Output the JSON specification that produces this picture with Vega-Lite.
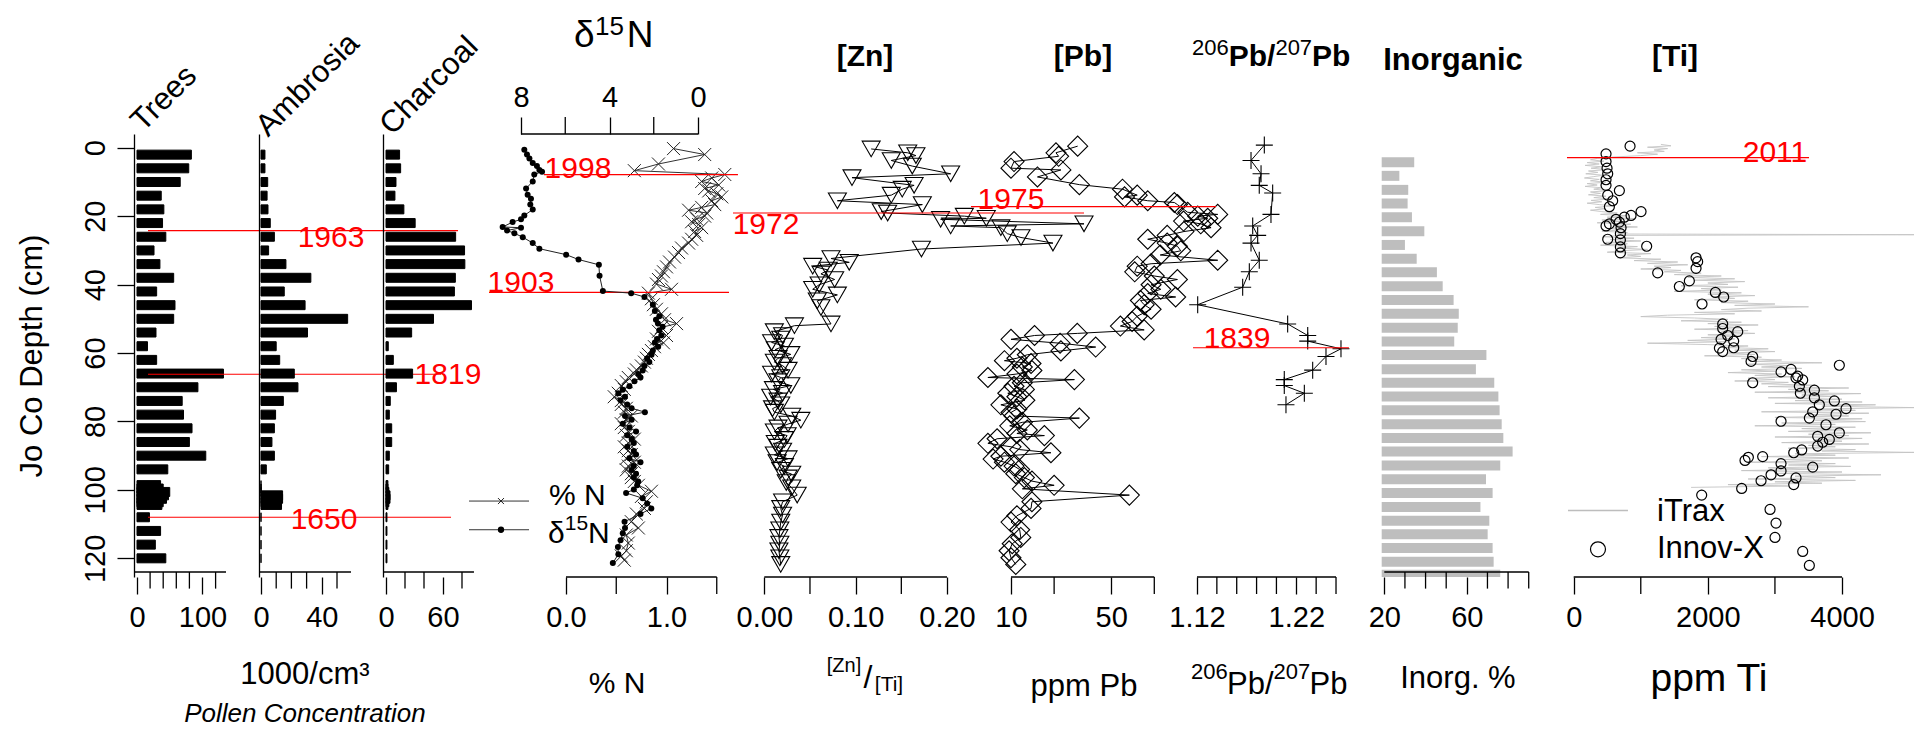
{
"$schema":"https://vega.github.io/schema/vega-lite/v6.json",
"background":"white",
"padding":{"left":16,"top":13,"right":0,"bottom":0},
"bounds":"flush",
"spacing":0,
"config":{
 "view":{"stroke":null},
 "font":"Liberation Sans",
 "text":{"font":"Liberation Sans","color":"black"},
 "axis":{"grid":false,"labelFont":"Liberation Sans","labelFontSize":29,"labelColor":"black","tickColor":"black","tickSize":17,"tickWidth":1.3,"domainColor":"black","domainWidth":1.3,"labelPadding":9,"labelOverlap":false,"labelFlush":false,"titleFont":"Liberation Sans"}
},
"datasets":{
 "pollen":[
  {"depth":2,"trees":83,"ambrosia":2.6,"charcoal":14.3},{"depth":6,"trees":79,"ambrosia":2.6,"charcoal":15.4},{"depth":10,"trees":66,"ambrosia":4.4,"charcoal":10.5},{"depth":14,"trees":37,"ambrosia":4,"charcoal":9.4},{"depth":18,"trees":41,"ambrosia":4.6,"charcoal":18.8},{"depth":22,"trees":39,"ambrosia":6.1,"charcoal":30.7},{"depth":26,"trees":44,"ambrosia":8.8,"charcoal":73.3},{"depth":30,"trees":26,"ambrosia":5,"charcoal":82.7},{"depth":34,"trees":35,"ambrosia":16.4,"charcoal":83},{"depth":38,"trees":56,"ambrosia":32.8,"charcoal":73},{"depth":42,"trees":30,"ambrosia":15.3,"charcoal":72},{"depth":46,"trees":58,"ambrosia":29,"charcoal":90},{"depth":50,"trees":56,"ambrosia":57,"charcoal":50},{"depth":54,"trees":29,"ambrosia":30.6,"charcoal":27},{"depth":58,"trees":16,"ambrosia":10,"charcoal":2.4},{"depth":62,"trees":30,"ambrosia":12.3,"charcoal":7.7},{"depth":66,"trees":132,"ambrosia":21.9,"charcoal":28},{"depth":70,"trees":93,"ambrosia":24.3,"charcoal":11},{"depth":74,"trees":69,"ambrosia":14.7,"charcoal":4.5},{"depth":78,"trees":71,"ambrosia":9.6,"charcoal":3.5},{"depth":82,"trees":84,"ambrosia":8.8,"charcoal":6},{"depth":86,"trees":80,"ambrosia":7.2,"charcoal":6},{"depth":90,"trees":105,"ambrosia":8.8,"charcoal":3.5},{"depth":94,"trees":47,"ambrosia":3.5,"charcoal":2.8},{"depth":98.6,"trees":36,"ambrosia":0,"charcoal":2},{"depth":99.6,"trees":40,"ambrosia":0,"charcoal":2},{"depth":100.6,"trees":50,"ambrosia":0,"charcoal":3},{"depth":101.6,"trees":48,"ambrosia":14.2,"charcoal":4.2},{"depth":102.6,"trees":45,"ambrosia":14.2,"charcoal":4.2},{"depth":103.6,"trees":40,"ambrosia":13.5,"charcoal":3},{"depth":104.4,"trees":38,"ambrosia":13.5,"charcoal":2},{"depth":108,"trees":19,"ambrosia":0,"charcoal":1},{"depth":112,"trees":36,"ambrosia":0,"charcoal":1},{"depth":116,"trees":28,"ambrosia":0,"charcoal":1},{"depth":120,"trees":44,"ambrosia":0,"charcoal":1}
 ],
 "pctn":[
  {"depth":1.6,"n":1.07},{"depth":3.3,"n":1.38},{"depth":6.0,"n":0.92},{"depth":7.9,"n":0.68},{"depth":9.0,"n":1.58},{"depth":10.0,"n":1.45},{"depth":11.0,"n":1.35},{"depth":12.0,"n":1.52},{"depth":13.0,"n":1.38},{"depth":13.7,"n":1.42},{"depth":14.5,"n":1.5},{"depth":15.4,"n":1.55},{"depth":16.5,"n":1.45},{"depth":17.6,"n":1.48},{"depth":18.4,"n":1.35},{"depth":19.2,"n":1.22},{"depth":20.0,"n":1.4},{"depth":20.9,"n":1.38},{"depth":21.7,"n":1.3},{"depth":22.5,"n":1.25},{"depth":23.3,"n":1.32},{"depth":24.2,"n":1.35},{"depth":25.3,"n":1.28},{"depth":26.4,"n":1.3},{"depth":27.5,"n":1.25},{"depth":28.6,"n":1.22},{"depth":30.0,"n":1.15},{"depth":31.3,"n":1.12},{"depth":32.6,"n":1.08},{"depth":34.0,"n":1.03},{"depth":35.4,"n":1.0},{"depth":36.8,"n":0.97},{"depth":38.0,"n":0.95},{"depth":39.0,"n":0.92},{"depth":40.3,"n":0.9},{"depth":41.8,"n":1.05},{"depth":42.9,"n":0.82},{"depth":44.5,"n":0.85},{"depth":46.2,"n":0.87},{"depth":47.5,"n":0.9},{"depth":48.8,"n":0.95},{"depth":50.5,"n":0.98},{"depth":51.6,"n":1.1},{"depth":52.7,"n":0.95},{"depth":53.8,"n":0.92},{"depth":55.0,"n":1.0},{"depth":56.0,"n":0.9},{"depth":57.1,"n":0.97},{"depth":58.2,"n":0.88},{"depth":59.3,"n":0.85},{"depth":60.4,"n":0.82},{"depth":61.5,"n":0.8},{"depth":62.6,"n":0.78},{"depth":63.7,"n":0.75},{"depth":64.8,"n":0.7},{"depth":66.0,"n":0.68},{"depth":67.0,"n":0.62},{"depth":68.2,"n":0.6},{"depth":69.3,"n":0.55},{"depth":70.4,"n":0.58},{"depth":71.5,"n":0.52},{"depth":72.5,"n":0.48},{"depth":73.6,"n":0.55},{"depth":74.7,"n":0.55},{"depth":75.8,"n":0.6},{"depth":76.9,"n":0.58},{"depth":78.0,"n":0.65},{"depth":79.1,"n":0.6},{"depth":80.2,"n":0.55},{"depth":81.3,"n":0.58},{"depth":82.4,"n":0.62},{"depth":83.5,"n":0.6},{"depth":84.6,"n":0.68},{"depth":85.7,"n":0.62},{"depth":86.8,"n":0.58},{"depth":87.9,"n":0.62},{"depth":89.0,"n":0.65},{"depth":90.1,"n":0.6},{"depth":91.2,"n":0.68},{"depth":92.3,"n":0.62},{"depth":93.4,"n":0.6},{"depth":94.5,"n":0.65},{"depth":95.6,"n":0.65},{"depth":96.7,"n":0.68},{"depth":97.8,"n":0.72},{"depth":99.5,"n":0.85},{"depth":101.0,"n":0.75},{"depth":102.5,"n":0.8},{"depth":104.4,"n":0.78},{"depth":106.0,"n":0.7},{"depth":108.2,"n":0.65},{"depth":110.0,"n":0.72},{"depth":112.0,"n":0.6},{"depth":114.3,"n":0.62},{"depth":116.5,"n":0.6},{"depth":118.0,"n":0.55},{"depth":119.2,"n":0.58}
 ],
 "d15n":[
  {"depth":1.9,"d":7.85},{"depth":3.3,"d":7.73},{"depth":4.4,"d":7.62},{"depth":5.7,"d":7.47},{"depth":6.6,"d":7.28},{"depth":7.7,"d":7.17},{"depth":8.2,"d":7.05},{"depth":9.0,"d":7.4},{"depth":11.0,"d":7.47},{"depth":13.0,"d":7.77},{"depth":14.8,"d":7.7},{"depth":15.9,"d":7.55},{"depth":17.6,"d":7.58},{"depth":19.0,"d":7.47},{"depth":20.7,"d":7.85},{"depth":21.8,"d":8.0},{"depth":22.6,"d":8.38},{"depth":24.0,"d":8.83},{"depth":24.2,"d":8.0},{"depth":25.0,"d":8.63},{"depth":25.8,"d":8.3},{"depth":26.9,"d":7.92},{"depth":28.6,"d":7.47},{"depth":30.2,"d":7.17},{"depth":31.9,"d":5.96},{"depth":33.3,"d":5.4},{"depth":34.8,"d":4.48},{"depth":37.9,"d":4.45},{"depth":42.3,"d":4.3},{"depth":42.9,"d":3.02},{"depth":44.0,"d":2.42},{"depth":46.2,"d":2.04},{"depth":48.0,"d":1.95},{"depth":49.5,"d":1.75},{"depth":50.5,"d":1.9},{"depth":51.6,"d":1.81},{"depth":52.5,"d":1.6},{"depth":53.5,"d":1.75},{"depth":55.0,"d":1.66},{"depth":56.0,"d":1.85},{"depth":57.0,"d":1.95},{"depth":58.2,"d":1.8},{"depth":59.3,"d":2.04},{"depth":60.5,"d":2.1},{"depth":61.6,"d":2.3},{"depth":62.6,"d":2.2},{"depth":63.7,"d":2.42},{"depth":65.0,"d":2.5},{"depth":66.0,"d":2.7},{"depth":67.0,"d":2.6},{"depth":68.1,"d":2.87},{"depth":69.5,"d":3.1},{"depth":70.5,"d":3.4},{"depth":71.5,"d":3.6},{"depth":72.5,"d":3.3},{"depth":73.5,"d":3.5},{"depth":74.7,"d":3.2},{"depth":75.8,"d":3.0},{"depth":76.9,"d":2.4},{"depth":78.0,"d":3.3},{"depth":79.1,"d":3.0},{"depth":80.2,"d":3.4},{"depth":81.3,"d":3.1},{"depth":82.4,"d":2.8},{"depth":83.5,"d":3.2},{"depth":84.6,"d":3.0},{"depth":85.7,"d":2.9},{"depth":86.8,"d":3.2},{"depth":88.0,"d":2.9},{"depth":89.0,"d":2.8},{"depth":90.1,"d":3.1},{"depth":91.2,"d":2.6},{"depth":92.3,"d":2.9},{"depth":93.4,"d":3.0},{"depth":94.5,"d":2.8},{"depth":95.6,"d":2.9},{"depth":96.7,"d":2.7},{"depth":97.8,"d":2.75},{"depth":99.0,"d":2.9},{"depth":100.0,"d":3.25},{"depth":101.5,"d":2.5},{"depth":103.0,"d":2.3},{"depth":104.4,"d":2.11},{"depth":106.0,"d":2.6},{"depth":108.2,"d":3.32},{"depth":110.0,"d":3.3},{"depth":111.5,"d":3.4},{"depth":113.5,"d":3.5},{"depth":115.4,"d":3.62},{"depth":117.5,"d":3.6},{"depth":120.0,"d":3.85}
 ],
 "zn":[
  {"depth":1.7,"zn":0.117},{"depth":2.8,"zn":0.157},{"depth":3.6,"zn":0.166},{"depth":5.0,"zn":0.139},{"depth":6.6,"zn":0.162},{"depth":8.8,"zn":0.204},{"depth":9.9,"zn":0.096},{"depth":12.1,"zn":0.164},{"depth":13.2,"zn":0.151},{"depth":14.9,"zn":0.139},{"depth":16.5,"zn":0.08},{"depth":17.6,"zn":0.173},{"depth":19.6,"zn":0.128},{"depth":20.0,"zn":0.135},{"depth":20.9,"zn":0.219},{"depth":21.5,"zn":0.243},{"depth":21.8,"zn":0.193},{"depth":23.1,"zn":0.35},{"depth":23.7,"zn":0.204},{"depth":24.2,"zn":0.259},{"depth":25.9,"zn":0.266},{"depth":27.0,"zn":0.281},{"depth":28.6,"zn":0.316},{"depth":30.3,"zn":0.172},{"depth":33.0,"zn":0.073},{"depth":34.1,"zn":0.093},{"depth":35.2,"zn":0.053},{"depth":36.3,"zn":0.07},{"depth":37.4,"zn":0.062},{"depth":39.0,"zn":0.077},{"depth":40.5,"zn":0.06},{"depth":41.8,"zn":0.053},{"depth":43.4,"zn":0.08},{"depth":45.1,"zn":0.058},{"depth":47.0,"zn":0.062},{"depth":51.7,"zn":0.073},{"depth":52.2,"zn":0.033},{"depth":53.9,"zn":0.011},{"depth":55.0,"zn":0.02},{"depth":56.0,"zn":0.018},{"depth":57.0,"zn":0.008},{"depth":58.0,"zn":0.022},{"depth":59.0,"zn":0.012},{"depth":60.4,"zn":0.029},{"depth":61.5,"zn":0.015},{"depth":62.6,"zn":0.011},{"depth":63.6,"zn":0.02},{"depth":64.9,"zn":0.026},{"depth":66.0,"zn":0.008},{"depth":67.0,"zn":0.018},{"depth":68.2,"zn":0.015},{"depth":69.3,"zn":0.029},{"depth":70.4,"zn":0.01},{"depth":71.5,"zn":0.02},{"depth":72.6,"zn":0.007},{"depth":73.7,"zn":0.015},{"depth":74.8,"zn":0.018},{"depth":75.9,"zn":0.009},{"depth":76.9,"zn":0.011},{"depth":78.0,"zn":0.03},{"depth":79.2,"zn":0.04},{"depth":80.3,"zn":0.026},{"depth":81.4,"zn":0.015},{"depth":82.5,"zn":0.011},{"depth":83.6,"zn":0.025},{"depth":84.7,"zn":0.022},{"depth":85.8,"zn":0.012},{"depth":86.9,"zn":0.015},{"depth":88.0,"zn":0.02},{"depth":89.1,"zn":0.011},{"depth":90.2,"zn":0.026},{"depth":91.3,"zn":0.014},{"depth":92.4,"zn":0.022},{"depth":93.5,"zn":0.018},{"depth":94.6,"zn":0.03},{"depth":95.7,"zn":0.026},{"depth":97.0,"zn":0.024},{"depth":98.5,"zn":0.03},{"depth":100.6,"zn":0.036},{"depth":102.5,"zn":0.02},{"depth":104.4,"zn":0.018},{"depth":106.3,"zn":0.02},{"depth":108.3,"zn":0.018},{"depth":110.5,"zn":0.017},{"depth":112.7,"zn":0.016},{"depth":114.6,"zn":0.017},{"depth":116.5,"zn":0.016},{"depth":118.5,"zn":0.017},{"depth":120.4,"zn":0.018}
 ],
 "pb":[
  {"depth":0.9,"pb":29.2},{"depth":2.8,"pb":20.6},{"depth":3.8,"pb":21.5},{"depth":5.3,"pb":10.5},{"depth":7.2,"pb":10.0},{"depth":7.7,"pb":22.3},{"depth":9.7,"pb":15.3},{"depth":11.9,"pb":30},{"depth":13.2,"pb":60},{"depth":14.9,"pb":76},{"depth":15.4,"pb":62},{"depth":16.5,"pb":90},{"depth":17.0,"pb":138},{"depth":17.6,"pb":145},{"depth":19.8,"pb":171},{"depth":20.4,"pb":277},{"depth":20.9,"pb":201},{"depth":21.5,"pb":236},{"depth":22.3,"pb":160},{"depth":23.1,"pb":211},{"depth":24.2,"pb":249},{"depth":25.3,"pb":161},{"depth":26.4,"pb":123},{"depth":27.5,"pb":90},{"depth":28.6,"pb":123},{"depth":29.5,"pb":145},{"depth":30.8,"pb":153},{"depth":32.0,"pb":110},{"depth":33.5,"pb":277},{"depth":34.5,"pb":95},{"depth":35.2,"pb":76},{"depth":36.8,"pb":73},{"depth":38.0,"pb":100},{"depth":39.0,"pb":145},{"depth":40.5,"pb":95},{"depth":41.8,"pb":111},{"depth":43.0,"pb":90},{"depth":44.0,"pb":141},{"depth":45.0,"pb":80},{"depth":46.2,"pb":85},{"depth":47.5,"pb":95},{"depth":49.5,"pb":76},{"depth":51.0,"pb":70},{"depth":52.3,"pb":58},{"depth":53.4,"pb":85},{"depth":54.4,"pb":29},{"depth":55.0,"pb":14.6},{"depth":56.1,"pb":10},{"depth":57.2,"pb":22},{"depth":58.3,"pb":39},{"depth":59.4,"pb":22.3},{"depth":60.5,"pb":13},{"depth":61.5,"pb":11},{"depth":62.2,"pb":9},{"depth":63.0,"pb":13.8},{"depth":64.0,"pb":12},{"depth":65.0,"pb":14},{"depth":66.0,"pb":11},{"depth":67.0,"pb":6.9},{"depth":67.6,"pb":27.7},{"depth":68.5,"pb":12},{"depth":69.5,"pb":10.5},{"depth":70.4,"pb":12.4},{"depth":71.5,"pb":9.5},{"depth":72.5,"pb":11},{"depth":73.5,"pb":12.5},{"depth":74.8,"pb":8.5},{"depth":76.0,"pb":11},{"depth":77.0,"pb":10},{"depth":78.0,"pb":10.5},{"depth":78.6,"pb":30},{"depth":79.8,"pb":12},{"depth":80.8,"pb":9.8},{"depth":82.0,"pb":13},{"depth":83.0,"pb":11},{"depth":83.6,"pb":17.1},{"depth":84.5,"pb":8},{"depth":85.8,"pb":6.9},{"depth":86.8,"pb":10},{"depth":87.6,"pb":11.5},{"depth":88.5,"pb":19},{"depth":89.5,"pb":8.5},{"depth":90.3,"pb":7.5},{"depth":91.2,"pb":9},{"depth":92.3,"pb":10.5},{"depth":93.3,"pb":11.5},{"depth":94.5,"pb":10.8},{"depth":95.6,"pb":12.4},{"depth":96.6,"pb":14},{"depth":97.8,"pb":20},{"depth":98.8,"pb":12},{"depth":100.6,"pb":67},{"depth":102.5,"pb":14},{"depth":104.4,"pb":13.8},{"depth":106.5,"pb":11},{"depth":108.3,"pb":10},{"depth":110.5,"pb":11.5},{"depth":112.7,"pb":11.7},{"depth":114.5,"pb":10.2},{"depth":116.5,"pb":9.7},{"depth":118.5,"pb":10},{"depth":120.4,"pb":10.8}
 ],
 "ratio":[
  {"depth":0.6,"r":1.1878},{"depth":5.0,"r":1.1744},{"depth":8.8,"r":1.1845},{"depth":12.1,"r":1.1827},{"depth":14.3,"r":1.1962},{"depth":20.4,"r":1.1945},{"depth":23.7,"r":1.1761},{"depth":26.4,"r":1.1811},{"depth":28.6,"r":1.1744},{"depth":33.5,"r":1.1827},{"depth":36.8,"r":1.1727},{"depth":41.2,"r":1.166},{"depth":46.2,"r":1.1207},{"depth":51.7,"r":1.2113},{"depth":55.0,"r":1.2315},{"depth":56.6,"r":1.2315},{"depth":58.8,"r":1.265},{"depth":61.0,"r":1.2499},{"depth":64.9,"r":1.2365},{"depth":67.6,"r":1.2079},{"depth":69.3,"r":1.2079},{"depth":71.5,"r":1.2281},{"depth":74.8,"r":1.2096}
 ],
 "inorg":[
  {"depth":4.2,"v":34.5},{"depth":8.2,"v":27.3},{"depth":12.3,"v":31.6},{"depth":16.3,"v":31.3},{"depth":20.3,"v":33.4},{"depth":24.4,"v":39.4},{"depth":28.4,"v":30.0},{"depth":32.4,"v":35.7},{"depth":36.4,"v":45.5},{"depth":40.5,"v":48.3},{"depth":44.5,"v":53.6},{"depth":48.5,"v":56.1},{"depth":52.6,"v":55.6},{"depth":56.6,"v":53.9},{"depth":60.6,"v":69.5},{"depth":64.7,"v":64.4},{"depth":68.7,"v":73.3},{"depth":72.7,"v":75.3},{"depth":76.7,"v":75.9},{"depth":80.8,"v":76.9},{"depth":84.8,"v":77.7},{"depth":88.8,"v":82.2},{"depth":92.9,"v":76.2},{"depth":96.9,"v":69.3},{"depth":100.9,"v":72.5},{"depth":105.0,"v":66.6},{"depth":109.0,"v":70.9},{"depth":113.0,"v":70.1},{"depth":117.0,"v":72.5},{"depth":121.0,"v":73.0},{"depth":124.8,"v":76.2}
 ],
 "innov":[
  {"depth":0.9,"ti":840},{"depth":3.1,"ti":482},{"depth":5.3,"ti":482},{"depth":7.2,"ti":497},{"depth":8.8,"ti":507},{"depth":10.5,"ti":482},{"depth":12.1,"ti":482},{"depth":13.6,"ti":681},{"depth":14.9,"ti":507},{"depth":16.5,"ti":581},{"depth":18.2,"ti":532},{"depth":19.6,"ti":1004},{"depth":20.7,"ti":855},{"depth":21.2,"ti":755},{"depth":21.8,"ti":631},{"depth":22.6,"ti":681},{"depth":23.1,"ti":532},{"depth":23.7,"ti":482},{"depth":24.2,"ti":706},{"depth":25.9,"ti":696},{"depth":27.5,"ti":507},{"depth":27.7,"ti":696},{"depth":29.5,"ti":1088},{"depth":29.7,"ti":696},{"depth":31.4,"ti":696},{"depth":32.8,"ti":1824},{"depth":33.9,"ti":1848},{"depth":35.8,"ti":1824},{"depth":37.1,"ti":1252},{"depth":39.4,"ti":1724},{"depth":41.0,"ti":1575},{"depth":42.7,"ti":2112},{"depth":44.0,"ti":2236},{"depth":46.0,"ti":1913},{"depth":51.7,"ti":2221},{"depth":53.0,"ti":2221},{"depth":53.9,"ti":2445},{"depth":55.0,"ti":2296},{"depth":56.1,"ti":2197},{"depth":56.6,"ti":2385},{"depth":58.5,"ti":2385},{"depth":58.6,"ti":2172},{"depth":59.6,"ti":2221},{"depth":61.0,"ti":2668},{"depth":62.4,"ti":2644},{"depth":63.5,"ti":3960},{"depth":64.7,"ti":3240},{"depth":65.4,"ti":3091},{"depth":66.6,"ti":3339},{"depth":67.1,"ti":3314},{"depth":67.7,"ti":3414},{"depth":68.5,"ti":2668},{"depth":69.5,"ti":3364},{"depth":70.6,"ti":3588},{"depth":71.5,"ti":3379},{"depth":72.8,"ti":3588},{"depth":73.7,"ti":3886},{"depth":74.8,"ti":3662},{"depth":75.9,"ti":4060},{"depth":76.8,"ti":3563},{"depth":77.5,"ti":3911},{"depth":78.6,"ti":3513},{"depth":79.5,"ti":3091},{"depth":80.5,"ti":3761},{"depth":82.8,"ti":3960},{"depth":83.8,"ti":3637},{"depth":84.7,"ti":3811},{"depth":85.5,"ti":3712},{"depth":86.6,"ti":3637},{"depth":87.7,"ti":3399},{"depth":88.5,"ti":3280},{"depth":89.6,"ti":2817},{"depth":89.8,"ti":2604},{"depth":90.7,"ti":2554},{"depth":91.6,"ti":3091},{"depth":92.6,"ti":3563},{"depth":93.7,"ti":3091},{"depth":94.8,"ti":2942},{"depth":95.7,"ti":3314},{"depth":96.5,"ti":2793},{"depth":97.6,"ti":3280},{"depth":98.7,"ti":2504},{"depth":100.6,"ti":1908},{"depth":104.7,"ti":2927},{"depth":108.6,"ti":3016},{"depth":112.7,"ti":3001},{"depth":116.7,"ti":3414},{"depth":120.7,"ti":3513}
 ],
 "itrax":[
  {"depth":0.4,"ti":1300},{"depth":0.8,"ti":1450},{"depth":1.2,"ti":1100},{"depth":1.6,"ti":1400},{"depth":2.0,"ti":1200},{"depth":2.4,"ti":1350},{"depth":2.8,"ti":950},{"depth":3.2,"ti":1250},{"depth":3.6,"ti":1000},{"depth":4.0,"ti":600},{"depth":4.4,"ti":350},{"depth":4.8,"ti":250},{"depth":5.2,"ti":450},{"depth":5.6,"ti":200},{"depth":6.0,"ti":380},{"depth":6.4,"ti":170},{"depth":6.8,"ti":420},{"depth":7.2,"ti":260},{"depth":7.6,"ti":500},{"depth":8.0,"ti":220},{"depth":8.4,"ti":360},{"depth":8.8,"ti":180},{"depth":9.2,"ti":450},{"depth":9.6,"ti":300},{"depth":10.0,"ti":160},{"depth":10.4,"ti":380},{"depth":10.8,"ti":250},{"depth":11.2,"ti":480},{"depth":11.6,"ti":200},{"depth":12.0,"ti":350},{"depth":12.4,"ti":170},{"depth":12.8,"ti":420},{"depth":13.2,"ti":300},{"depth":13.6,"ti":520},{"depth":14.0,"ti":250},{"depth":14.4,"ti":400},{"depth":14.8,"ti":220},{"depth":15.2,"ti":480},{"depth":15.6,"ti":300},{"depth":16.0,"ti":550},{"depth":16.4,"ti":260},{"depth":16.8,"ti":420},{"depth":17.2,"ti":200},{"depth":17.6,"ti":380},{"depth":18.0,"ti":600},{"depth":18.4,"ti":320},{"depth":18.8,"ti":480},{"depth":19.2,"ti":250},{"depth":19.6,"ti":420},{"depth":20.0,"ti":650},{"depth":20.4,"ti":400},{"depth":20.8,"ti":800},{"depth":21.2,"ti":500},{"depth":21.6,"ti":900},{"depth":22.0,"ti":420},{"depth":22.4,"ti":700},{"depth":22.8,"ti":350},{"depth":23.2,"ti":850},{"depth":23.6,"ti":600},{"depth":24.0,"ti":950},{"depth":24.4,"ti":500},{"depth":24.8,"ti":750},{"depth":25.2,"ti":420},{"depth":25.6,"ti":800},{"depth":26.0,"ti":650},{"depth":26.2,"ti":5080},{"depth":26.4,"ti":700},{"depth":26.8,"ti":450},{"depth":27.2,"ti":900},{"depth":27.6,"ti":550},{"depth":28.0,"ti":1000},{"depth":28.4,"ti":480},{"depth":28.8,"ti":800},{"depth":29.2,"ti":400},{"depth":29.6,"ti":950},{"depth":30.0,"ti":650},{"depth":30.4,"ti":1100},{"depth":30.8,"ti":700},{"depth":31.2,"ti":500},{"depth":31.6,"ti":1150},{"depth":32.0,"ti":800},{"depth":32.4,"ti":1000},{"depth":32.8,"ti":650},{"depth":33.2,"ti":1300},{"depth":33.6,"ti":900},{"depth":34.0,"ti":1550},{"depth":34.4,"ti":1100},{"depth":34.8,"ti":1700},{"depth":35.2,"ti":1200},{"depth":35.6,"ti":1450},{"depth":36.0,"ti":1000},{"depth":36.4,"ti":1600},{"depth":36.8,"ti":1350},{"depth":37.2,"ti":1900},{"depth":37.6,"ti":1500},{"depth":38.0,"ti":2200},{"depth":38.4,"ti":1700},{"depth":38.8,"ti":2400},{"depth":39.2,"ti":1800},{"depth":39.6,"ti":2550},{"depth":40.0,"ti":2000},{"depth":40.4,"ti":2300},{"depth":40.8,"ti":1600},{"depth":41.2,"ti":2450},{"depth":41.6,"ti":1900},{"depth":42.0,"ti":2200},{"depth":42.4,"ti":1500},{"depth":42.8,"ti":2500},{"depth":43.2,"ti":2000},{"depth":43.6,"ti":2700},{"depth":44.0,"ti":2100},{"depth":44.4,"ti":2400},{"depth":44.8,"ti":1800},{"depth":45.2,"ti":2600},{"depth":45.6,"ti":2200},{"depth":46.0,"ti":3000},{"depth":46.4,"ti":2400},{"depth":46.8,"ti":3500},{"depth":47.2,"ti":2600},{"depth":47.6,"ti":2200},{"depth":48.0,"ti":2800},{"depth":48.4,"ti":1800},{"depth":48.8,"ti":2400},{"depth":49.2,"ti":1400},{"depth":49.6,"ti":1000},{"depth":50.0,"ti":1800},{"depth":50.4,"ti":2300},{"depth":50.8,"ti":1600},{"depth":51.2,"ti":2500},{"depth":51.6,"ti":2000},{"depth":52.0,"ti":2750},{"depth":52.4,"ti":2100},{"depth":52.8,"ti":2500},{"depth":53.2,"ti":1800},{"depth":53.6,"ti":2600},{"depth":54.0,"ti":2200},{"depth":54.4,"ti":2700},{"depth":54.8,"ti":2000},{"depth":55.2,"ti":2500},{"depth":55.6,"ti":1900},{"depth":56.0,"ti":2400},{"depth":56.4,"ti":1700},{"depth":56.8,"ti":2300},{"depth":57.2,"ti":1100},{"depth":57.6,"ti":2000},{"depth":58.0,"ti":2600},{"depth":58.4,"ti":2200},{"depth":58.8,"ti":2900},{"depth":59.2,"ti":2400},{"depth":59.6,"ti":3000},{"depth":60.0,"ti":2300},{"depth":60.4,"ti":2700},{"depth":60.8,"ti":1950},{"depth":61.2,"ti":2800},{"depth":61.6,"ti":2500},{"depth":62.0,"ti":3100},{"depth":62.4,"ti":2700},{"depth":62.8,"ti":3700},{"depth":63.2,"ti":2600},{"depth":63.6,"ti":3200},{"depth":64.0,"ti":2800},{"depth":64.4,"ti":3400},{"depth":64.8,"ti":2500},{"depth":65.2,"ti":3000},{"depth":65.6,"ti":2300},{"depth":66.0,"ti":3100},{"depth":66.4,"ti":2700},{"depth":66.8,"ti":3300},{"depth":67.2,"ti":2600},{"depth":67.6,"ti":3000},{"depth":68.0,"ti":2400},{"depth":68.4,"ti":3200},{"depth":68.8,"ti":2800},{"depth":69.2,"ti":3600},{"depth":69.6,"ti":2900},{"depth":70.0,"ti":4100},{"depth":70.4,"ti":3200},{"depth":70.8,"ti":3800},{"depth":71.2,"ti":2700},{"depth":71.6,"ti":4280},{"depth":72.0,"ti":3400},{"depth":72.4,"ti":3900},{"depth":72.8,"ti":2900},{"depth":73.2,"ti":4000},{"depth":73.6,"ti":3300},{"depth":74.0,"ti":4300},{"depth":74.4,"ti":3000},{"depth":74.8,"ti":4500},{"depth":75.2,"ti":3700},{"depth":75.6,"ti":5080},{"depth":76.0,"ti":3600},{"depth":76.4,"ti":4200},{"depth":76.8,"ti":2800},{"depth":77.2,"ti":4400},{"depth":77.6,"ti":3500},{"depth":78.0,"ti":4100},{"depth":78.4,"ti":3000},{"depth":78.8,"ti":4300},{"depth":79.2,"ti":3600},{"depth":79.6,"ti":4350},{"depth":80.0,"ti":3100},{"depth":80.4,"ti":3900},{"depth":80.8,"ti":2700},{"depth":81.2,"ti":4200},{"depth":81.6,"ti":3400},{"depth":82.0,"ti":4000},{"depth":82.4,"ti":3200},{"depth":82.8,"ti":4430},{"depth":83.2,"ti":3500},{"depth":83.6,"ti":4100},{"depth":84.0,"ti":3000},{"depth":84.4,"ti":4300},{"depth":84.8,"ti":3600},{"depth":85.2,"ti":4000},{"depth":85.6,"ti":3100},{"depth":86.0,"ti":4400},{"depth":86.4,"ti":3500},{"depth":86.8,"ti":3900},{"depth":87.2,"ti":3200},{"depth":87.6,"ti":4200},{"depth":88.0,"ti":3700},{"depth":88.4,"ti":5080},{"depth":88.8,"ti":3300},{"depth":89.2,"ti":3900},{"depth":89.6,"ti":2800},{"depth":90.0,"ti":4100},{"depth":90.4,"ti":3100},{"depth":90.8,"ti":3700},{"depth":91.2,"ti":2600},{"depth":91.6,"ti":3900},{"depth":92.0,"ti":3200},{"depth":92.4,"ti":4130},{"depth":92.8,"ti":2900},{"depth":93.2,"ti":3600},{"depth":93.6,"ti":2500},{"depth":94.0,"ti":4000},{"depth":94.4,"ti":3000},{"depth":94.8,"ti":4580},{"depth":95.2,"ti":3300},{"depth":95.6,"ti":3900},{"depth":96.0,"ti":2600},{"depth":96.4,"ti":4200},{"depth":96.8,"ti":3000},{"depth":97.2,"ti":3700},{"depth":97.6,"ti":2300},{"depth":98.0,"ti":3200},{"depth":98.4,"ti":1750}
 ]
},
"hconcat":[
 {"width":125,"height":443,"layer":[
  {"data":{"name":"pollen"},"mark":{"type":"bar","orient":"horizontal","height":9,"fill":"black","stroke":"black","strokeWidth":1},
   "encoding":{
    "x":{"field":"trees","type":"quantitative","scale":{"domain":[-4.58,186.26],"nice":false,"zero":false},"axis":{"values":[0,100],"domain":false,"title":null}},
    "x2":{"datum":0},
    "y":{"field":"depth","type":"quantitative","scale":{"domain":[-2.57,124],"reverse":true,"nice":false,"zero":false},"axis":{"values":[0,20,40,60,80,100,120],"labelAngle":-90,"labelAlign":"center","labelBaseline":"bottom","labelPadding":7,"title":"Jo Co Depth (cm)","titleFontSize":31,"titleFontWeight":"normal","titleColor":"black","titlePadding":33,"domain":true}}}},
  {"data":{"values":[{"t":20},{"t":40},{"t":60},{"t":80},{"t":120}]},"mark":{"type":"rule","color":"black","strokeWidth":1.3},"encoding":{"x":{"field":"t","type":"quantitative"},"y":{"datum":124},"y2":{"datum":128.857}}},
  {"data":{"values":[{}]},"mark":{"type":"rule","color":"black","strokeWidth":1.3},"encoding":{"x":{"datum":-4.58},"x2":{"datum":135.9},"y":{"datum":124}}},
  {"data":{"values":[{}]},"mark":{"type":"text","text":"Trees","angle":-45,"align":"left","baseline":"alphabetic","fontSize":31},"encoding":{"x":{"datum":9.16},"y":{"datum":-4.4}}},
  {"data":{"values":[{}]},"mark":{"type":"rule","color":"red","strokeWidth":1.2},"encoding":{"x":{"datum":16.8},"x2":{"datum":490.1},"y":{"datum":24.2}}},
  {"data":{"values":[{}]},"mark":{"type":"rule","color":"red","strokeWidth":1.2},"encoding":{"x":{"datum":16.8},"x2":{"datum":464.1},"y":{"datum":66.2}}},
  {"data":{"values":[{}]},"mark":{"type":"rule","color":"red","strokeWidth":1.2},"encoding":{"x":{"datum":16.8},"x2":{"datum":479.4},"y":{"datum":108}}},
  {"data":{"values":[{}]},"mark":{"type":"text","text":"1963","color":"red","fontSize":30,"align":"center","baseline":"middle"},"encoding":{"x":{"datum":296.2},"y":{"datum":26.4}}},
  {"data":{"values":[{}]},"mark":{"type":"text","text":"1819","color":"red","fontSize":30,"align":"center","baseline":"middle"},"encoding":{"x":{"datum":474.8},"y":{"datum":66.5}}},
  {"data":{"values":[{}]},"mark":{"type":"text","text":"1650","color":"red","fontSize":30,"align":"center","baseline":"middle"},"encoding":{"x":{"datum":285.5},"y":{"datum":108.7}}}
 ]},
 {"width":124,"height":443,"layer":[
  {"data":{"name":"pollen"},"mark":{"type":"bar","orient":"horizontal","height":9,"fill":"black","stroke":"black","strokeWidth":1},
   "encoding":{
    "x":{"field":"ambrosia","type":"quantitative","scale":{"domain":[-1.316,80.26],"nice":false,"zero":false},"axis":{"values":[0,40],"domain":false,"title":null}},
    "x2":{"datum":0},
    "y":{"field":"depth","type":"quantitative","scale":{"domain":[-2.57,124],"reverse":true,"nice":false,"zero":false},"axis":{"domain":true,"ticks":false,"labels":false,"title":null}}}},
  {"data":{"values":[{"t":10},{"t":20},{"t":30},{"t":50}]},"mark":{"type":"rule","color":"black","strokeWidth":1.3},"encoding":{"x":{"field":"t","type":"quantitative"},"y":{"datum":124},"y2":{"datum":128.857}}},
  {"data":{"values":[{}]},"mark":{"type":"rule","color":"black","strokeWidth":1.3},"encoding":{"x":{"datum":-1.316},"x2":{"datum":59.2},"y":{"datum":124}}},
  {"data":{"values":[{}]},"mark":{"type":"text","text":"Ambrosia","angle":-45,"align":"left","baseline":"alphabetic","fontSize":31},"encoding":{"x":{"datum":4.6},"y":{"datum":-2.9}}},
  {"data":{"values":[{}]},"mark":{"type":"text","text":"1000/cm³","fontSize":31,"align":"center","baseline":"middle"},"encoding":{"x":{"datum":28.9},"y":{"datum":154.0}}},
  {"data":{"values":[{}]},"mark":{"type":"text","text":"Pollen Concentration","fontSize":26,"fontStyle":"italic","align":"center","baseline":"middle"},"encoding":{"x":{"datum":28.9},"y":{"datum":165.5}}}
 ]},
 {"width":108,"height":443,"layer":[
  {"data":{"name":"pollen"},"mark":{"type":"bar","orient":"horizontal","height":9,"fill":"black","stroke":"black","strokeWidth":1},
   "encoding":{
    "x":{"field":"charcoal","type":"quantitative","scale":{"domain":[-3.158,110.53],"nice":false,"zero":false},"axis":{"values":[0,60],"domain":false,"title":null}},
    "x2":{"datum":0},
    "y":{"field":"depth","type":"quantitative","scale":{"domain":[-2.57,124],"reverse":true,"nice":false,"zero":false},"axis":{"domain":true,"ticks":false,"labels":false,"title":null}}}},
  {"data":{"values":[{"t":20},{"t":40},{"t":80}]},"mark":{"type":"rule","color":"black","strokeWidth":1.3},"encoding":{"x":{"field":"t","type":"quantitative"},"y":{"datum":124},"y2":{"datum":128.857}}},
  {"data":{"values":[{}]},"mark":{"type":"rule","color":"black","strokeWidth":1.3},"encoding":{"x":{"datum":-3.158},"x2":{"datum":92.6},"y":{"datum":124}}},
  {"data":{"values":[{}]},"mark":{"type":"text","text":"Charcoal","angle":-45,"align":"left","baseline":"alphabetic","fontSize":31},"encoding":{"x":{"datum":6.32},"y":{"datum":-3.4}}}
 ]},
 {"width":250,"height":443,
  "layer":[
   {"layer":[
    {"data":{"name":"pctn"},"mark":{"type":"line","color":"#333333","strokeWidth":1},
     "encoding":{"x":{"field":"n","type":"quantitative","scale":{"domain":[-0.7463,1.7413],"nice":false,"zero":false},"axis":{"orient":"bottom","values":[0,1],"format":".1f","domain":false,"title":null}},
      "y":{"field":"depth","type":"quantitative","scale":{"domain":[-2.57,124],"reverse":true,"nice":false,"zero":false},"axis":null},
      "order":{"field":"depth","type":"quantitative"}}},
    {"data":{"name":"pctn"},"mark":{"type":"point","shape":"M-1,-1L1,1M-1,1L1,-1","size":169,"filled":false,"color":"#222222","strokeWidth":1,"opacity":1},
     "encoding":{"x":{"field":"n","type":"quantitative"},"y":{"field":"depth","type":"quantitative","axis":null}}},
    {"data":{"values":[{"t":0.5},{"t":1.5}]},"mark":{"type":"rule","color":"black","strokeWidth":1.3},"encoding":{"x":{"field":"t","type":"quantitative"},"y":{"datum":124,"axis":null},"y2":{"datum":128.857}}},
    {"data":{"values":[{}]},"mark":{"type":"rule","color":"black","strokeWidth":1.3},"encoding":{"x":{"datum":0},"x2":{"datum":1.5},"y":{"datum":124,"axis":null}}},
    {"data":{"values":[{}]},"mark":{"type":"rule","color":"#333333","strokeWidth":1},"encoding":{"x":{"datum":-0.965},"x2":{"datum":-0.368},"y":{"datum":102.3,"axis":null}}},
    {"data":{"values":[{}]},"mark":{"type":"point","shape":"M-1,-1L1,1M-1,1L1,-1","size":36,"filled":false,"color":"#222222","strokeWidth":1,"opacity":1},"encoding":{"x":{"datum":-0.647},"y":{"datum":102.3,"axis":null}}},
    {"data":{"values":[{}]},"mark":{"type":"text","text":"% N","fontSize":30,"align":"left","baseline":"middle"},"encoding":{"x":{"datum":-0.169},"y":{"datum":101,"axis":null}}},
    {"data":{"values":[{}]},"mark":{"type":"rule","color":"#333333","strokeWidth":1},"encoding":{"x":{"datum":-0.965},"x2":{"datum":-0.368},"y":{"datum":110.5,"axis":null}}},
    {"data":{"values":[{}]},"mark":{"type":"point","shape":"circle","size":40,"filled":true,"color":"black","opacity":1},"encoding":{"x":{"datum":-0.647},"y":{"datum":110.5,"axis":null}}},
    {"data":{"values":[{}]},"mark":{"type":"text","text":"δ","fontSize":30,"align":"left","baseline":"alphabetic"},"encoding":{"x":{"datum":-0.1791},"y":{"datum":114.3,"axis":null}}},
    {"data":{"values":[{}]},"mark":{"type":"text","text":"15","fontSize":21,"align":"left","baseline":"alphabetic"},"encoding":{"x":{"datum":-0.0129},"y":{"datum":110.6,"axis":null}}},
    {"data":{"values":[{}]},"mark":{"type":"text","text":"N","fontSize":30,"align":"left","baseline":"alphabetic"},"encoding":{"x":{"datum":0.2189},"y":{"datum":114.3,"axis":null}}},
    {"data":{"values":[{}]},"mark":{"type":"rule","color":"red","strokeWidth":1.2},"encoding":{"x":{"datum":-0.219},"x2":{"datum":1.711},"y":{"datum":9.05,"axis":null}}},
    {"data":{"values":[{}]},"mark":{"type":"rule","color":"red","strokeWidth":1.2},"encoding":{"x":{"datum":-0.766},"x2":{"datum":1.622},"y":{"datum":42.7,"axis":null}}},
    {"data":{"values":[{}]},"mark":{"type":"text","text":"1998","color":"red","fontSize":30,"align":"center","baseline":"middle"},"encoding":{"x":{"datum":0.119},"y":{"datum":7.4,"axis":null}}},
    {"data":{"values":[{}]},"mark":{"type":"text","text":"1903","color":"red","fontSize":30,"align":"center","baseline":"middle"},"encoding":{"x":{"datum":-0.448},"y":{"datum":40.1,"axis":null}}},
    {"data":{"values":[{}]},"mark":{"type":"text","text":"% N","fontSize":30,"align":"center","baseline":"middle"},"encoding":{"x":{"datum":0.5075},"y":{"datum":154.5,"axis":null}}}
   ]},
   {"layer":[
    {"data":{"name":"d15n"},"mark":{"type":"line","color":"#222222","strokeWidth":1},
     "encoding":{"x":{"field":"d","type":"quantitative","scale":{"domain":[-1.9435,9.356],"reverse":true,"nice":false,"zero":false},"axis":{"orient":"top","values":[0,4,8],"domain":false,"title":null,"labelPadding":5}},
      "y":{"field":"depth","type":"quantitative","axis":null},
      "order":{"field":"depth","type":"quantitative"}}},
    {"data":{"name":"d15n"},"mark":{"type":"point","shape":"circle","size":36,"filled":true,"color":"black","opacity":1},
     "encoding":{"x":{"field":"d","type":"quantitative"},"y":{"field":"depth","type":"quantitative","axis":null}}},
    {"data":{"values":[{"t":2},{"t":6}]},"mark":{"type":"rule","color":"black","strokeWidth":1.3},"encoding":{"x":{"field":"t","type":"quantitative"},"y":{"datum":-2.57,"axis":null},"y2":{"datum":-7.427}}},
    {"data":{"values":[{}]},"mark":{"type":"rule","color":"black","strokeWidth":1.3},"encoding":{"x":{"datum":0},"x2":{"datum":8},"y":{"datum":-2.57,"axis":null}}},
    {"data":{"values":[{}]},"mark":{"type":"text","text":"δ","fontSize":37,"align":"left","baseline":"alphabetic"},"encoding":{"x":{"datum":5.605},"y":{"datum":-27.43,"axis":null}}},
    {"data":{"values":[{}]},"mark":{"type":"text","text":"15","fontSize":26,"align":"left","baseline":"alphabetic"},"encoding":{"x":{"datum":4.655},"y":{"datum":-30.86,"axis":null}}},
    {"data":{"values":[{}]},"mark":{"type":"text","text":"N","fontSize":37,"align":"left","baseline":"alphabetic"},"encoding":{"x":{"datum":3.22},"y":{"datum":-27.43,"axis":null}}}
   ]}
  ],
  "resolve":{"scale":{"x":"independent"},"axis":{"x":"independent"}}
 },
 {"width":250,"height":443,"layer":[
  {"data":{"name":"zn"},"mark":{"type":"line","color":"black","strokeWidth":1},
   "encoding":{"x":{"field":"zn","type":"quantitative","scale":{"domain":[-0.02551,0.24817],"nice":false,"zero":false},"axis":{"values":[0,0.1,0.2],"format":".2f","domain":false,"title":null}},
    "y":{"field":"depth","type":"quantitative","scale":{"domain":[-2.57,124],"reverse":true,"nice":false,"zero":false},"axis":null},
    "order":{"field":"depth","type":"quantitative"}}},
  {"data":{"name":"zn"},"mark":{"type":"point","shape":"triangle-down","size":324,"filled":false,"color":"black","strokeWidth":1.1,"opacity":1},
   "encoding":{"x":{"field":"zn","type":"quantitative"},"y":{"field":"depth","type":"quantitative","axis":null}}},
  {"data":{"values":[{"t":0.05},{"t":0.15}]},"mark":{"type":"rule","color":"black","strokeWidth":1.3},"encoding":{"x":{"field":"t","type":"quantitative"},"y":{"datum":124,"axis":null},"y2":{"datum":128.857}}},
  {"data":{"values":[{}]},"mark":{"type":"rule","color":"black","strokeWidth":1.3},"encoding":{"x":{"datum":0},"x2":{"datum":0.2},"y":{"datum":124,"axis":null}}},
  {"data":{"values":[{}]},"mark":{"type":"text","text":"[Zn]","fontSize":30,"fontWeight":"bold","align":"center","baseline":"alphabetic"},"encoding":{"x":{"datum":0.1102},"y":{"datum":-22,"axis":null}}},
  {"data":{"values":[{}]},"mark":{"type":"rule","color":"red","strokeWidth":1.2},"encoding":{"x":{"datum":-0.0343},"x2":{"datum":0.35},"y":{"datum":20,"axis":null}}},
  {"data":{"values":[{}]},"mark":{"type":"text","text":"1972","color":"red","fontSize":30,"align":"center","baseline":"middle"},"encoding":{"x":{"datum":0.0019},"y":{"datum":23.3,"axis":null}}},
  {"data":{"values":[{}]},"mark":{"type":"text","text":"[Zn]","fontSize":20,"align":"center","baseline":"middle"},"encoding":{"x":{"datum":0.0872},"y":{"datum":149.4,"axis":null}}},
  {"data":{"values":[{}]},"mark":{"type":"text","text":"/","fontSize":32,"align":"center","baseline":"middle"},"encoding":{"x":{"datum":0.1135},"y":{"datum":152.8,"axis":null}}},
  {"data":{"values":[{}]},"mark":{"type":"text","text":"[Ti]","fontSize":21,"align":"center","baseline":"middle"},"encoding":{"x":{"datum":0.1365},"y":{"datum":154.8,"axis":null}}}
 ]},
 {"width":180,"height":443,"layer":[
  {"data":{"name":"pb"},"mark":{"type":"line","color":"black","strokeWidth":1},
   "encoding":{"x":{"field":"pb","type":"quantitative","scale":{"type":"log","domain":[7.253,130.8],"nice":false,"zero":false},"axis":{"values":[10,50],"format":"d","domain":false,"title":null}},
    "y":{"field":"depth","type":"quantitative","scale":{"domain":[-2.57,124],"reverse":true,"nice":false,"zero":false},"axis":null},
    "order":{"field":"depth","type":"quantitative"}}},
  {"data":{"name":"pb"},"mark":{"type":"point","shape":"diamond","size":400,"filled":false,"color":"black","strokeWidth":1.1,"opacity":1},
   "encoding":{"x":{"field":"pb","type":"quantitative","scale":{"type":"log"}},"y":{"field":"depth","type":"quantitative","axis":null}}},
  {"data":{"values":[{"t":20},{"t":100}]},"mark":{"type":"rule","color":"black","strokeWidth":1.3},"encoding":{"x":{"field":"t","type":"quantitative","scale":{"type":"log"}},"y":{"datum":124,"axis":null},"y2":{"datum":128.857}}},
  {"data":{"values":[{}]},"mark":{"type":"rule","color":"black","strokeWidth":1.3},"encoding":{"x":{"datum":10,"scale":{"type":"log"}},"x2":{"datum":100},"y":{"datum":124,"axis":null}}},
  {"data":{"values":[{}]},"mark":{"type":"text","text":"[Pb]","fontSize":30,"fontWeight":"bold","align":"center","baseline":"alphabetic"},"encoding":{"x":{"datum":31.8,"scale":{"type":"log"}},"y":{"datum":-22,"axis":null}}},
  {"data":{"values":[{}]},"mark":{"type":"rule","color":"red","strokeWidth":1.2},"encoding":{"x":{"datum":5.26,"scale":{"type":"log"}},"x2":{"datum":269.6},"y":{"datum":18.2,"axis":null}}},
  {"data":{"values":[{}]},"mark":{"type":"text","text":"1975","color":"red","fontSize":30,"align":"center","baseline":"middle"},"encoding":{"x":{"datum":10,"scale":{"type":"log"}},"y":{"datum":16.3,"axis":null}}},
  {"data":{"values":[{}]},"mark":{"type":"text","text":"ppm Pb","fontSize":31,"align":"center","baseline":"middle"},"encoding":{"x":{"datum":32.3,"scale":{"type":"log"}},"y":{"datum":155.4,"axis":null}}}
 ]},
 {"width":180,"height":443,"layer":[
  {"data":{"name":"ratio"},"mark":{"type":"line","color":"black","strokeWidth":1},
   "encoding":{"x":{"field":"r","type":"quantitative","scale":{"domain":[1.09382,1.27509],"nice":false,"zero":false},"axis":{"values":[1.12,1.22],"format":".2f","domain":false,"title":null}},
    "y":{"field":"depth","type":"quantitative","scale":{"domain":[-2.57,124],"reverse":true,"nice":false,"zero":false},"axis":null},
    "order":{"field":"depth","type":"quantitative"}}},
  {"data":{"name":"ratio"},"mark":{"type":"point","shape":"M-1,0L1,0M0,-1L0,1","size":289,"filled":false,"color":"black","strokeWidth":1.1,"opacity":1},
   "encoding":{"x":{"field":"r","type":"quantitative"},"y":{"field":"depth","type":"quantitative","axis":null}}},
  {"data":{"values":[{"t":1.14},{"t":1.16},{"t":1.18},{"t":1.2},{"t":1.24},{"t":1.26}]},"mark":{"type":"rule","color":"black","strokeWidth":1.3},"encoding":{"x":{"field":"t","type":"quantitative"},"y":{"datum":124,"axis":null},"y2":{"datum":128.857}}},
  {"data":{"values":[{}]},"mark":{"type":"rule","color":"black","strokeWidth":1.3},"encoding":{"x":{"datum":1.12},"x2":{"datum":1.26},"y":{"datum":124,"axis":null}}},
  {"data":{"values":[{}]},"mark":{"type":"text","text":"206","fontSize":22,"align":"left","baseline":"alphabetic"},"encoding":{"x":{"datum":1.11496},"y":{"datum":-25.2,"axis":null}}},
  {"data":{"values":[{}]},"mark":{"type":"text","text":"Pb/","fontSize":30,"fontWeight":"bold","align":"left","baseline":"alphabetic"},"encoding":{"x":{"datum":1.15192},"y":{"datum":-22,"axis":null}}},
  {"data":{"values":[{}]},"mark":{"type":"text","text":"207","fontSize":22,"align":"left","baseline":"alphabetic"},"encoding":{"x":{"datum":1.19895},"y":{"datum":-25.2,"axis":null}}},
  {"data":{"values":[{}]},"mark":{"type":"text","text":"Pb","fontSize":30,"fontWeight":"bold","align":"left","baseline":"alphabetic"},"encoding":{"x":{"datum":1.23581},"y":{"datum":-22,"axis":null}}},
  {"data":{"values":[{}]},"mark":{"type":"rule","color":"red","strokeWidth":1.2},"encoding":{"x":{"datum":1.116},"x2":{"datum":1.273},"y":{"datum":58.5,"axis":null}}},
  {"data":{"values":[{}]},"mark":{"type":"text","text":"1839","color":"red","fontSize":30,"align":"center","baseline":"middle"},"encoding":{"x":{"datum":1.1603},"y":{"datum":56,"axis":null}}},
  {"data":{"values":[{}]},"mark":{"type":"text","text":"206","fontSize":22,"align":"left","baseline":"alphabetic"},"encoding":{"x":{"datum":1.11396},"y":{"datum":153.0,"axis":null}}},
  {"data":{"values":[{}]},"mark":{"type":"text","text":"Pb/","fontSize":31,"align":"left","baseline":"alphabetic"},"encoding":{"x":{"datum":1.15021},"y":{"datum":157.4,"axis":null}}},
  {"data":{"values":[{}]},"mark":{"type":"text","text":"207","fontSize":22,"align":"left","baseline":"alphabetic"},"encoding":{"x":{"datum":1.19704},"y":{"datum":153.0,"axis":null}}},
  {"data":{"values":[{}]},"mark":{"type":"text","text":"Pb","fontSize":31,"align":"left","baseline":"alphabetic"},"encoding":{"x":{"datum":1.23329},"y":{"datum":157.4,"axis":null}}}
 ]},
 {"width":210,"height":443,"layer":[
  {"data":{"name":"inorg"},"mark":{"type":"bar","orient":"horizontal","height":10,"color":"#bebebe","clip":true},
   "encoding":{"x":{"field":"v","type":"quantitative","scale":{"domain":[3.858,105.65],"nice":false,"zero":false},"axis":{"values":[20,60],"domain":false,"title":null}},
    "x2":{"datum":18.74},
    "y":{"field":"depth","type":"quantitative","scale":{"domain":[-2.57,124],"reverse":true,"nice":false,"zero":false},"axis":null}}},
  {"data":{"values":[{"t":30},{"t":40},{"t":50},{"t":70},{"t":80},{"t":90}]},"mark":{"type":"rule","color":"black","strokeWidth":1.3},"encoding":{"x":{"field":"t","type":"quantitative"},"y":{"datum":124,"axis":null},"y2":{"datum":128.857}}},
  {"data":{"values":[{}]},"mark":{"type":"rule","color":"black","strokeWidth":1.3},"encoding":{"x":{"datum":20},"x2":{"datum":90},"y":{"datum":124,"axis":null}}},
  {"data":{"values":[{}]},"mark":{"type":"text","text":"Inorganic","fontSize":31,"fontWeight":"bold","align":"center","baseline":"alphabetic"},"encoding":{"x":{"datum":53.3},"y":{"datum":-22.8,"axis":null}}},
  {"data":{"values":[{}]},"mark":{"type":"text","text":"Inorg. %","fontSize":31,"align":"center","baseline":"middle"},"encoding":{"x":{"datum":55.7},"y":{"datum":155.4,"axis":null}}}
 ]},
 {"width":354,"height":443,"layer":[
  {"data":{"name":"itrax"},"mark":{"type":"line","color":"#c4c4c4","strokeWidth":0.9},
   "encoding":{"x":{"field":"ti","type":"quantitative","scale":{"domain":[-189.3,5088],"nice":false,"zero":false},"axis":{"values":[0,2000,4000],"format":"d","domain":false,"title":null}},
    "y":{"field":"depth","type":"quantitative","scale":{"domain":[-2.57,124],"reverse":true,"nice":false,"zero":false},"axis":null},
    "order":{"field":"depth","type":"quantitative"}}},
  {"data":{"name":"innov"},"mark":{"type":"point","shape":"circle","size":100,"filled":false,"color":"black","strokeWidth":1.2,"opacity":1},
   "encoding":{"x":{"field":"ti","type":"quantitative"},"y":{"field":"depth","type":"quantitative","axis":null}}},
  {"data":{"values":[{"t":1000},{"t":3000}]},"mark":{"type":"rule","color":"black","strokeWidth":1.3},"encoding":{"x":{"field":"t","type":"quantitative"},"y":{"datum":124,"axis":null},"y2":{"datum":128.857}}},
  {"data":{"values":[{}]},"mark":{"type":"rule","color":"black","strokeWidth":1.3},"encoding":{"x":{"datum":0},"x2":{"datum":4000},"y":{"datum":124,"axis":null}}},
  {"data":{"values":[{}]},"mark":{"type":"text","text":"[Ti]","fontSize":30,"fontWeight":"bold","align":"center","baseline":"alphabetic"},"encoding":{"x":{"datum":1510},"y":{"datum":-22,"axis":null}}},
  {"data":{"values":[{}]},"mark":{"type":"rule","color":"red","strokeWidth":1.2},"encoding":{"x":{"datum":-100},"x2":{"datum":3508},"y":{"datum":4.2,"axis":null}}},
  {"data":{"values":[{}]},"mark":{"type":"text","text":"2011","color":"red","fontSize":30,"align":"center","baseline":"middle"},"encoding":{"x":{"datum":3001},"y":{"datum":2.8,"axis":null}}},
  {"data":{"values":[{}]},"mark":{"type":"rule","color":"#bdbdbd","strokeWidth":1.5},"encoding":{"x":{"datum":-85},"x2":{"datum":809},"y":{"datum":105,"axis":null}}},
  {"data":{"values":[{}]},"mark":{"type":"text","text":"iTrax","fontSize":31,"align":"left","baseline":"middle"},"encoding":{"x":{"datum":1242},"y":{"datum":105.3,"axis":null}}},
  {"data":{"values":[{}]},"mark":{"type":"point","shape":"circle","size":225,"filled":false,"color":"black","strokeWidth":1.2,"opacity":1},"encoding":{"x":{"datum":362},"y":{"datum":116.1,"axis":null}}},
  {"data":{"values":[{}]},"mark":{"type":"text","text":"Innov-X","fontSize":31,"align":"left","baseline":"middle"},"encoding":{"x":{"datum":1242},"y":{"datum":115.9,"axis":null}}},
  {"data":{"values":[{}]},"mark":{"type":"text","text":"ppm Ti","fontSize":39,"align":"center","baseline":"middle"},"encoding":{"x":{"datum":2017},"y":{"datum":153.1,"axis":null}}}
 ]}
]
}
